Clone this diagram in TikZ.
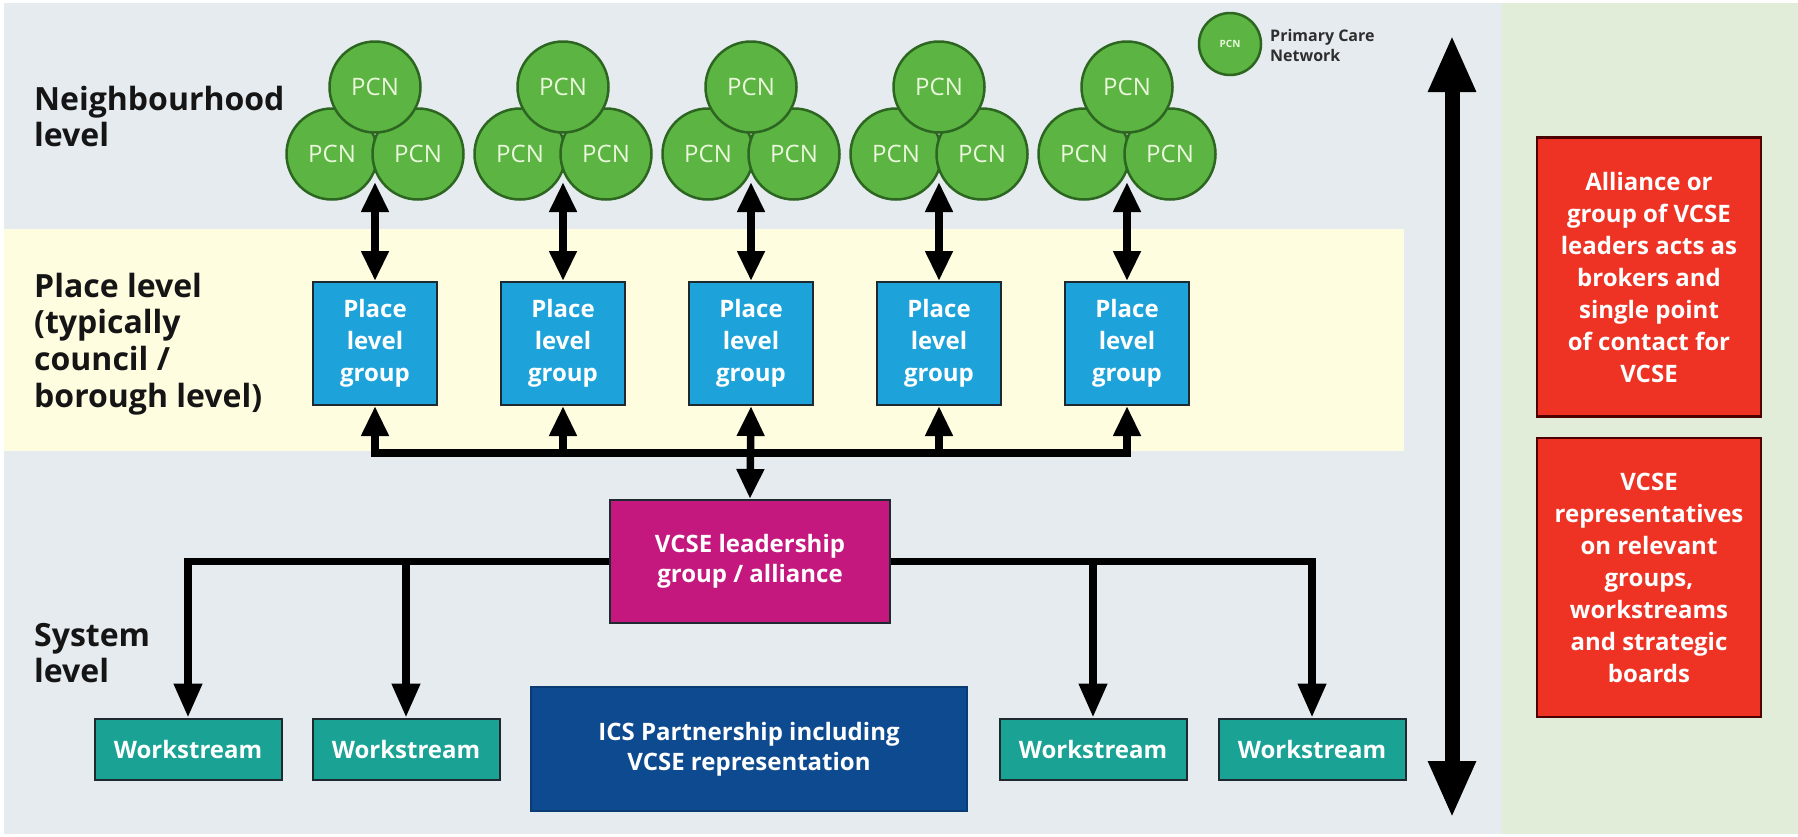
\documentclass[tikz,border=0pt]{standalone}
\usepackage{fontspec}
\setmainfont{Open Sans}
\usetikzlibrary{arrows.meta}
\definecolor{bgmain}{HTML}{E5EBEE}
\definecolor{bgyellow}{HTML}{FFFDE0}
\definecolor{bggreen}{HTML}{E2EDD9}
\definecolor{pcngreen}{HTML}{5CB443}
\definecolor{pcnborder}{HTML}{2C6620}
\definecolor{pcntext}{HTML}{EAF8DC}
\definecolor{placeblue}{HTML}{1DA2D9}
\definecolor{vcsemag}{HTML}{C4187F}
\definecolor{icsblue}{HTML}{0D4A8F}
\definecolor{wsteal}{HTML}{1AA394}
\definecolor{redbox}{HTML}{EE3325}
\definecolor{boxline}{HTML}{1E2A30}
\definecolor{labelblack}{HTML}{151515}
\definecolor{legendtext}{HTML}{2E2E2E}
\tikzset{
  pcn/.style={circle, draw=pcnborder, line width=2.5pt, fill=pcngreen, minimum size=91pt, inner sep=0pt, text=pcntext, font=\fontsize{24}{24}\selectfont},
  pcnsmall/.style={circle, draw=pcnborder, line width=2.5pt, fill=pcngreen, minimum size=62pt, inner sep=0pt, text=pcntext, font=\fontsize{10}{10}\selectfont\bfseries},
  boxbase/.style={rectangle, draw=boxline, line width=2pt, inner sep=0pt, align=center, text=white, font=\fontsize{24}{32}\selectfont\bfseries},
  placebox/.style={boxbase, fill=placeblue, minimum width=124pt, minimum height=123pt},
  vcsebox/.style={boxbase, fill=vcsemag, minimum width=280pt, minimum height=123pt, font=\fontsize{24}{30}\selectfont\bfseries},
  icsbox/.style={boxbase, draw=icsblue!80!black, fill=icsblue, minimum width=436pt, minimum height=124pt, font=\fontsize{24}{30}\selectfont\bfseries},
  wsbox/.style={boxbase, fill=wsteal, minimum width=187pt, minimum height=61pt},
  rbox/.style={boxbase, draw=red!30!black, line width=2.5pt, fill=redbox, minimum width=224pt, minimum height=279pt},
  lvl/.style={anchor=base west, inner sep=0pt, text=labelblack, font=\fontsize{32}{36.7}\selectfont\bfseries},
  conn/.style={draw=black, line width=7.5pt},
  ha/.tip={Triangle[length=30pt,width=26pt]},
  hb/.tip={Triangle[length=34pt,width=27pt]},
  hc/.tip={Triangle[length=57pt,width=44pt]},
}
\begin{document}
\begin{tikzpicture}[x=1pt,y=-1pt]
\useasboundingbox (0,0) rectangle (1798,836);
\fill[white] (0,0) rectangle (1798,836);
\fill[bgmain] (4,3) rectangle (1502,834);
\fill[bggreen] (1502,3) rectangle (1798,834);
\fill[bgyellow] (4,229) rectangle (1404,451);

% level labels
\node[lvl] (nlab) at (34,110) {\begin{tabular}[t]{@{}l@{}}Neighbourhood\\level\end{tabular}};
\node[lvl] (plab) at (34,297) {\begin{tabular}[t]{@{}l@{}}Place level\\(typically\\council /\\borough level)\end{tabular}};
\node[lvl] (slab) at (34,646) {\begin{tabular}[t]{@{}l@{}}System\\level\end{tabular}};

% legend
\node[pcnsmall] (legc) at (1230,44) {PCN};
\node[anchor=west, inner sep=0pt, align=left, text=legendtext, font=\fontsize{16}{20}\selectfont\bfseries] (legt) at (1270,45) {Primary Care\\Network};

% clusters and place level groups
\foreach \i/\cx in {1/375,2/563,3/751,4/939,5/1127}{
  \node[pcn] (pl\i) at (\cx-43,154) {PCN};
  \node[pcn] (pr\i) at (\cx+43,154) {PCN};
  \node[pcn] (pt\i) at (\cx,87) {PCN};
  \coordinate (j\i) at (\cx,182);
  \node[placebox] (pg\i) at (\cx,343.5) {Place\\level\\group};
  \draw[conn, ha-ha] (j\i) -- (pg\i.north);
}

% VCSE leadership
\node[vcsebox] (vcse) at (750,561.5) {VCSE leadership\\group / alliance};

% upper bus
\coordinate (ub) at (0,453);
\draw[conn, ha-ha] (pg1.south) -- (pg1.south |- ub) -- (pg5.south |- ub) -- (pg5.south);
\draw[conn, -ha] (pg2.south |- ub) -- (pg2.south);
\draw[conn, -ha] (pg4.south |- ub) -- (pg4.south);
\draw[conn, ha-ha] (pg3.south) -- (vcse.north);

% workstreams and ICS
\node[wsbox] (ws1) at (188,749) {Workstream};
\node[wsbox] (ws2) at (406,749) {Workstream};
\node[wsbox] (ws3) at (1093,749) {Workstream};
\node[wsbox] (ws4) at (1312,749) {Workstream};
\node[icsbox] (ics) at (749,749) {ICS Partnership including\\VCSE representation};

% lower bus
\draw[conn, -hb] (vcse.west) -| (ws1.north);
\draw[conn, -hb] (vcse.west -| ws2.north) -- (ws2.north);
\draw[conn, -hb] (vcse.east) -| (ws4.north);
\draw[conn, -hb] (vcse.east -| ws3.north) -- (ws3.north);

% big vertical arrow
\coordinate (bigtop) at (1452,35);
\coordinate (bigbot) at (1452,818);
\draw[draw=black, line width=15pt, hc-hc] (bigtop) -- (bigbot);

% red boxes
\node[rbox] (r1) at (1649,277) {Alliance or\\group of VCSE\\leaders acts as\\brokers and\\single point\\of contact for\\VCSE};
\node[rbox] (r2) at (1649,577.5) {VCSE\\representatives\\on relevant\\groups,\\workstreams\\and strategic\\boards};
\end{tikzpicture}
\end{document}
